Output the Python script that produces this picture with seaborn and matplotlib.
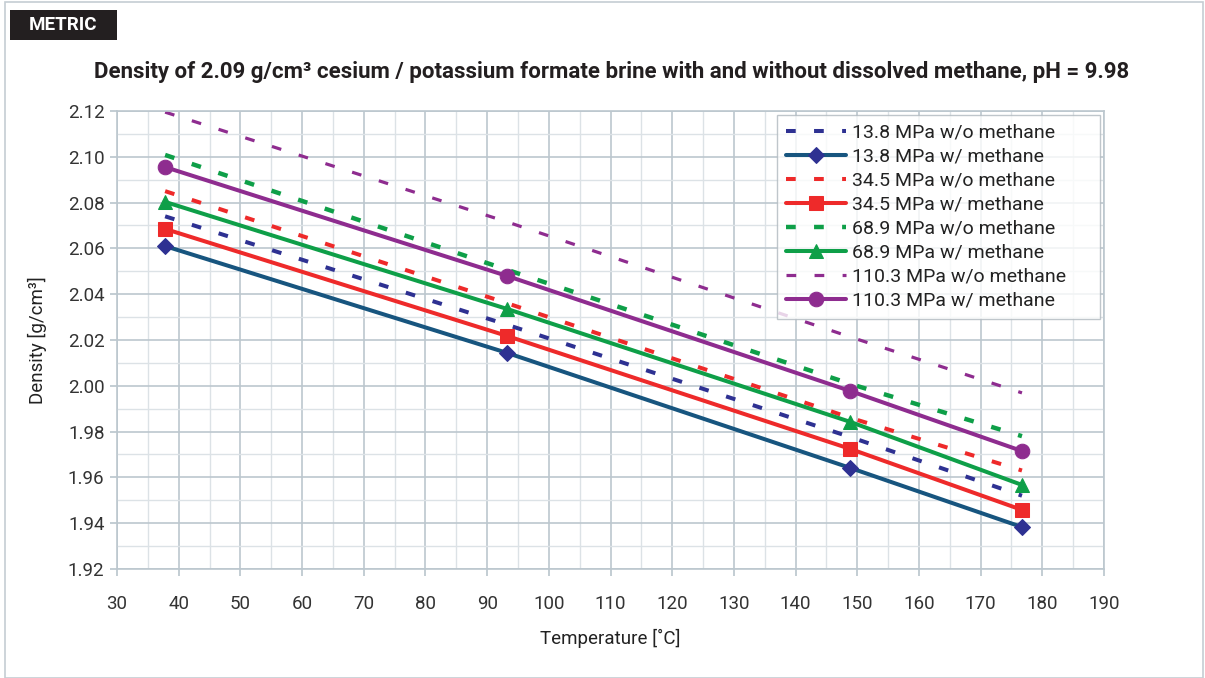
import numpy as np
import pandas as pd
import matplotlib.pyplot as plt
import seaborn as sns
from matplotlib.patches import Rectangle
from matplotlib.ticker import MultipleLocator

# temperatures of the measurement points (degC)
temps = [37.8, 93.3, 148.9, 176.7]

# densities (g/cm3)
wo_13_8 = [2.074, 2.0266, 1.9776, 1.952]
w_13_8 = [2.061, 2.0143, 1.9641, 1.9383]
wo_34_5 = [2.085, 2.036, 1.986, 1.963]
w_34_5 = [2.0685, 2.0217, 1.9724, 1.9458]
wo_68_9 = [2.1008, 2.0506, 2.0008, 1.978]
w_68_9 = [2.0803, 2.0335, 1.9842, 1.9567]
wo_110_3 = [2.1195, 2.0715, 2.0213, 1.9969]
w_110_3 = [2.0955, 2.0479, 1.9977, 1.9715]

labels = ["13.8 MPa w/o methane", "13.8 MPa w/ methane",
          "34.5 MPa w/o methane", "34.5 MPa w/ methane",
          "68.9 MPa w/o methane", "68.9 MPa w/ methane",
          "110.3 MPa w/o methane", "110.3 MPa w/ methane"]

sns.set_theme(style="whitegrid")
plt.rcParams['font.family'] = ['Roboto', 'DejaVu Sans']

fig = plt.figure(figsize=(12.05, 6.78), dpi=100)
ax = fig.add_axes([0.0971, 0.1608, 0.8191, 0.6755])

# (values, line colour, marker colour, marker, marker size, dashed?, linewidth)
series = [
    (wo_13_8, "#2E3192", None, None, 0, True, 2.9),
    (w_13_8, "#17557F", "#2E3192", "D", 8, False, 2.9),
    (wo_34_5, "#EE2A2A", None, None, 0, True, 2.9),
    (w_34_5, "#EE2A2A", "#EE2A2A", "s", 9.5, False, 2.9),
    (wo_68_9, "#0E9F48", None, None, 0, True, 3.2),
    (w_68_9, "#0E9F48", "#0E9F48", "^", 10, False, 2.9),
    (wo_110_3, "#8E2C8F", None, None, 0, True, 2.3),
    (w_110_3, "#8E2C8F", "#8E2C8F", "o", 10.5, False, 2.9),
]

for (vals, col, mcol, mk, ms, dashed, lw), lab in zip(series, labels):
    df = pd.DataFrame({"T": temps, "rho": vals})
    if dashed:
        # keep the dash period near 20 pt whatever the width
        on, off = 7.0 / lw, 13.2 / lw
        sns.lineplot(data=df, x="T", y="rho", ax=ax, color=col, lw=lw,
                     label=lab, linestyle=(0, (on, off)))
    else:
        sns.lineplot(data=df, x="T", y="rho", ax=ax, color=col, lw=lw,
                     label=lab, marker=mk, markersize=ms,
                     markerfacecolor=mcol, markeredgecolor=mcol)

ax.set_xlim(30, 190)
ax.set_ylim(1.92, 2.12)
ax.xaxis.set_major_locator(MultipleLocator(10))
ax.xaxis.set_minor_locator(MultipleLocator(5))
ax.yaxis.set_major_locator(MultipleLocator(0.02))
ax.yaxis.set_minor_locator(MultipleLocator(0.01))
ax.yaxis.set_major_formatter(plt.FormatStrFormatter("%.2f"))

ax.grid(which="major", color="#BCC7CE", lw=1.2)
ax.grid(which="minor", color="#DCE2E6", lw=1.0)
for s in ax.spines.values():
    s.set_color("#BCC7CE")
    s.set_linewidth(1.2)

ax.tick_params(axis="x", which="major", length=5, color="#BCC7CE", pad=14,
               labelsize=13.5, labelcolor="#333333", bottom=True)
ax.tick_params(axis="y", which="major", length=5, color="#BCC7CE", pad=4,
               labelsize=13.5, labelcolor="#333333", left=True)
ax.tick_params(which="minor", length=0)

ax.set_xlabel("Temperature [˚C]", fontsize=13.5, color="#222222", labelpad=11)
ax.set_ylabel("Density [g/cm³]", fontsize=13.5, color="#222222", labelpad=15)

# legend box stretched to the width it has in the original
leg = ax.legend(loc="upper left", bbox_to_anchor=(0.6687, 0.0, 0.3273, 0.9913),
                mode="expand", fontsize=14, frameon=True, fancybox=False,
                borderaxespad=0, handlelength=3.1, handletextpad=0.3,
                labelspacing=0.31, borderpad=0.45)
leg.get_frame().set_edgecolor("#B0B8BE")
leg.get_frame().set_linewidth(1.0)
for t in leg.get_texts():
    t.set_color("#222222")

# figure border and METRIC tag
fig.patches.append(Rectangle((0.004, 0.0), 0.994, 0.997, transform=fig.transFigure,
                             fill=False, edgecolor="#C5CDD3", lw=1.2))
fig.patches.append(Rectangle((10 / 1205, 1 - 40 / 678), 107 / 1205, 30 / 678,
                             transform=fig.transFigure, facecolor="#231F20",
                             edgecolor="none"))
fig.text(63 / 1205, 1 - 25 / 678, "METRIC", color="white", fontsize=13.5,
         fontweight="bold", ha="center", va="center")

fig.text(612 / 1205, 1 - 72 / 678,
         "Density of 2.09 g/cm³ cesium / potassium formate brine with and without dissolved methane, pH = 9.98",
         fontsize=16, fontweight="bold", ha="center", va="center", color="#231F20")

fig.savefig("out.png", dpi=100, facecolor="white")
